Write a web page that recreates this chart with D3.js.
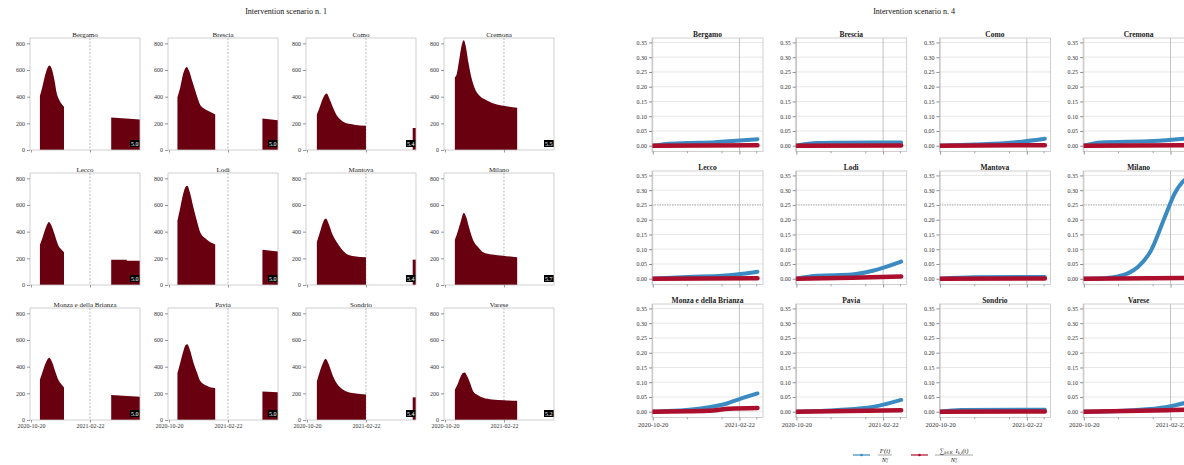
<!DOCTYPE html>
<html>
<head>
<meta charset="utf-8">
<script src="https://cdn.jsdelivr.net/npm/d3@7"></script>
<style>
  body { margin: 0; background: #fff; }
  text { font-family: "Liberation Serif", "DejaVu Serif", serif; fill: #222; }
</style>
</head>
<body>
<svg id="chart"></svg>
<script>
// province names, same order for both scenarios
const provinces = ["Bergamo", "Brescia", "Como", "Cremona", "Lecco", "Lodi",
  "Mantova", "Milano", "Monza e della Brianza", "Pavia", "Sondrio", "Varese"];

// scenario 1: [days after 2020-10-20, value] for the first wave hump
const s1Peak = [
  [[19,405],[24,470],[30,560],[35,615],[39,633],[44,610],[50,520],[55,420],[60,375],[65,345],[70,325]],
  [[18,395],[24,470],[30,570],[35,615],[38,623],[43,590],[50,510],[58,420],[66,340],[75,310],[88,285],[98,266]],
  [[21,266],[27,320],[33,380],[38,415],[42,423],[47,390],[55,320],[63,260],[72,225],[84,200],[100,190],[125,182]],
  [[21,545],[25,570],[29,650],[34,760],[38,815],[40,823],[44,780],[50,650],[57,530],[66,440],[74,405],[90,370],[110,342],[130,328],[153,317]],
  [[19,302],[25,360],[31,425],[36,465],[38,473],[43,450],[50,380],[58,296],[65,265],[70,245]],
  [[18,481],[24,580],[30,680],[35,735],[39,745],[44,700],[52,580],[60,470],[66,397],[80,342],[98,304]],
  [[21,322],[27,390],[33,460],[38,495],[40,499],[46,460],[54,380],[63,322],[72,275],[84,233],[100,215],[125,208]],
  [[21,340],[27,400],[33,470],[38,530],[40,542],[45,510],[52,420],[60,334],[70,285],[81,245],[100,228],[123,220],[153,208]],
  [[19,302],[25,365],[31,425],[36,460],[39,466],[44,440],[51,370],[58,302],[64,270],[70,243]],
  [[18,352],[24,430],[30,510],[35,560],[39,568],[44,530],[52,430],[60,350],[66,294],[80,256],[98,238]],
  [[21,289],[27,360],[33,420],[38,455],[40,458],[46,420],[54,340],[63,276],[72,240],[84,213],[100,200],[125,192]],
  [[21,226],[27,270],[33,325],[38,352],[42,357],[47,330],[54,270],[60,213],[70,185],[81,167],[100,154],[125,148],[153,144]]
];
// scenario 1: late block near the end of the period
const s1Late = [
  [[170,243],[231,228]],
  [[198,236],[231,223]],
  [[224,165],[231,165]],
  [],
  [[170,190],[203,190],[203.5,182],[231,182]],
  [[198,264],[231,251]],
  [[224,190],[231,190]],
  [],
  [[170,188],[231,175]],
  [[198,213],[231,208]],
  [[224,170],[231,170]],
  []
];
const s1BoxText = ["5.0", "5.0", "5.4", "5.5", "5.0", "5.0", "5.4", "5.7", "5.0", "5.0", "5.4", "5.2"];
const s1YTicks = [0, 200, 400, 600, 800];

// scenario 4: [days after 2020-10-20, share]
const s4Blue = [
  [[0,0],[20,0.006],[50,0.009],[90,0.012],[120,0.017],[151,0.022]],
  [[0,0],[30,0.009],[60,0.01],[151,0.011]],
  [[0,0],[50,0.004],[105,0.011],[151,0.024]],
  [[0,0],[25,0.011],[100,0.016],[151,0.025]],
  [[0,0],[50,0.006],[100,0.01],[130,0.017],[151,0.024]],
  [[0,0],[30,0.01],[80,0.014],[110,0.027],[151,0.058]],
  [[0,0],[50,0.005],[151,0.006]],
  [[0,0],[30,0.002],[49,0.008],[65,0.02],[78,0.04],[97,0.096],[116,0.204],[131,0.289],[145,0.334],[151,0.343]],
  [[0,0],[69,0.011],[107,0.028],[125,0.043],[151,0.062]],
  [[0,0],[60,0.006],[110,0.016],[151,0.04]],
  [[0,0],[30,0.006],[151,0.007]],
  [[0,0],[70,0.005],[120,0.016],[151,0.033]]
];
const s4Red = [
  [[0,0],[151,0.002]],
  [[0,0],[151,0.001]],
  [[0,0],[151,0.002]],
  [[0,0],[151,0.002]],
  [[0,0],[151,0.002]],
  [[0,0],[80,0.003],[151,0.008]],
  [[0,0],[151,0.001]],
  [[0,0],[151,0.003]],
  [[0,0],[80,0.003],[110,0.01],[151,0.013]],
  [[0,0],[151,0.005]],
  [[0,0],[151,0.001]],
  [[0,0],[120,0.005],[151,0.007]]
];
const s4YTicks = [0, 0.05, 0.10, 0.15, 0.20, 0.25, 0.30, 0.35];
const s4MinorDays = [50, 100, 150];

const dateLabels = ["2020-10-20", "2021-02-22"];

const width = 1184;
const height = 465;
const parseDate = d3.utcParse("%Y-%m-%d");
const startDate = parseDate(dateLabels[0]);
const markDate = parseDate(dateLabels[1]);
const toDate = (d) => d3.utcDay.offset(startDate, d);

let svg = d3.select("#chart")
  .attr("width", width)
  .attr("height", height);

svg.append("rect").attr("width", width).attr("height", height).attr("fill", "#fff");

// ---------- scenario 1 (left) ----------
function drawScenario1() {
  const pw = 110, ph = 112;
  const left0 = 30, colStep = 138, top0 = 38, rowStep = 135;

  svg.append("text")
    .attr("x", 286).attr("y", 14)
    .attr("text-anchor", "middle")
    .style("font-size", "8px")
    .style("fill", "#111")
    .text("Intervention scenario n. 1");

  provinces.forEach(function (name, i) {
    const col = i % 4, row = Math.floor(i / 4);
    let g = svg.append("g")
      .attr("transform", `translate(${left0 + col * colStep},${top0 + row * rowStep})`);

    const x = d3.scaleUtc().domain([toDate(-2), toDate(231)]).range([0, pw]);
    const y = d3.scaleLinear().domain([0, 840]).range([ph, 0]);

    const clipId = `clip1-${i}`;
    g.append("clipPath").attr("id", clipId)
      .append("rect").attr("width", pw).attr("height", ph);

    const area = d3.area()
      .x((d) => x(toDate(d[0])))
      .y0(y(0))
      .y1((d) => y(d[1]))
      .curve(d3.curveMonotoneX);

    let plot = g.append("g").attr("clip-path", `url(#${clipId})`);

    plot.append("line")
      .attr("x1", x(markDate)).attr("x2", x(markDate))
      .attr("y1", 0).attr("y2", ph)
      .attr("stroke", "#a8a8a8")
      .attr("stroke-width", 0.8)
      .attr("stroke-dasharray", "2,1.5");

    plot.append("path").datum(s1Peak[i])
      .attr("d", area).attr("fill", "#680010");
    if (s1Late[i].length) {
      plot.append("path").datum(s1Late[i])
        .attr("d", area.curve(d3.curveLinear)).attr("fill", "#680010");
    }

    // small black badge at the lower right corner
    plot.append("rect")
      .attr("x", pw - 10).attr("y", ph - 10)
      .attr("width", 14).attr("height", 7)
      .attr("fill", "#000");
    plot.append("text")
      .attr("x", pw - 9).attr("y", ph - 4.3)
      .style("fill", "#fff")
      .style("font-size", "6px")
      .text(s1BoxText[i]);

    g.append("rect")
      .attr("width", pw).attr("height", ph)
      .attr("fill", "none")
      .attr("stroke", "#c4c4c4")
      .attr("stroke-width", 0.8);

    let yAxis = g.append("g").call(d3.axisLeft(y).tickValues(s1YTicks).tickSize(3).tickPadding(2));
    yAxis.select(".domain").remove();
    yAxis.selectAll("line").attr("stroke", "#555").attr("stroke-width", 0.6);
    yAxis.selectAll("text").style("font-size", "6px").style("fill", "#333")
      .style("font-family", "'Liberation Serif', serif");

    let xAxis = g.append("g").attr("transform", `translate(0,${ph})`)
      .call(d3.axisBottom(x).tickValues([startDate, markDate]).tickSize(2.5).tickPadding(1.5)
        .tickFormat(row === 2 ? d3.utcFormat("%Y-%m-%d") : ""));
    xAxis.select(".domain").remove();
    xAxis.selectAll("line").attr("stroke", "#555").attr("stroke-width", 0.6);
    xAxis.selectAll("text").style("font-size", "6px").style("fill", "#333")
      .style("font-family", "'Liberation Serif', serif");

    g.append("text")
      .attr("x", pw / 2).attr("y", -1.5)
      .attr("text-anchor", "middle")
      .style("font-size", "7px")
      .text(name);
  });
}

// ---------- scenario 4 (right) ----------
function drawScenario4() {
  const pw = 111, ph = 113.5;
  const left0 = 652, colStep = 143.7, top0 = 38, rowStep = 133;

  svg.append("text")
    .attr("x", 914).attr("y", 14)
    .attr("text-anchor", "middle")
    .style("font-size", "8px")
    .style("fill", "#111")
    .text("Intervention scenario n. 4");

  provinces.forEach(function (name, i) {
    const col = i % 4, row = Math.floor(i / 4);
    let g = svg.append("g")
      .attr("transform", `translate(${left0 + col * colStep},${top0 + row * rowStep})`);

    const x = d3.scaleUtc().domain([toDate(-0.5), toDate(159)]).range([0, pw]);
    const y = d3.scaleLinear().domain([-0.0195, 0.365]).range([ph, 0]);

    const clipId = `clip4-${i}`;
    g.append("clipPath").attr("id", clipId)
      .append("rect").attr("width", pw).attr("height", ph);

    // grid
    g.append("g").selectAll("line").data(s4YTicks).enter().append("line")
      .attr("x1", 0).attr("x2", pw)
      .attr("y1", (d) => y(d)).attr("y2", (d) => y(d))
      .attr("stroke", (d) => (row === 1 && d === 0.25) ? "#777" : "#dcdcdc")
      .attr("stroke-dasharray", (d) => (row === 1 && d === 0.25) ? "1.5,1" : null)
      .attr("stroke-width", 0.7);
    g.append("g").selectAll("line").data([startDate, markDate]).enter().append("line")
      .attr("x1", (d) => x(d)).attr("x2", (d) => x(d))
      .attr("y1", 0).attr("y2", ph)
      .attr("stroke", "#b4b4b4")
      .attr("stroke-width", 0.8);

    const line = d3.line()
      .x((d) => x(toDate(d[0])))
      .y((d) => y(d[1]))
      .curve(d3.curveMonotoneX);

    let plot = g.append("g").attr("clip-path", `url(#${clipId})`);
    plot.append("path").datum(s4Blue[i])
      .attr("d", line)
      .attr("fill", "none")
      .attr("stroke", "#3b8bc2")
      .attr("stroke-width", 4)
      .attr("stroke-linecap", "round");
    plot.append("path").datum(s4Red[i])
      .attr("d", line)
      .attr("fill", "none")
      .attr("stroke", "#ac0f2d")
      .attr("stroke-width", 4.5)
      .attr("stroke-linecap", "round");

    g.append("rect")
      .attr("width", pw).attr("height", ph)
      .attr("fill", "none")
      .attr("stroke", "#c4c4c4")
      .attr("stroke-width", 0.8);

    let yAxis = g.append("g").call(d3.axisLeft(y).tickValues(s4YTicks).tickSize(3).tickPadding(2)
      .tickFormat(d3.format(".2f")));
    yAxis.select(".domain").remove();
    yAxis.selectAll("line").attr("stroke", "#444").attr("stroke-width", 0.6);
    yAxis.selectAll("text").style("font-size", "6px").style("fill", "#333")
      .style("font-family", "'Liberation Serif', serif");

    let xAxis = g.append("g").attr("transform", `translate(0,${ph})`)
      .call(d3.axisBottom(x).tickValues([startDate, markDate]).tickSize(3).tickPadding(2)
        .tickFormat(row === 2 ? d3.utcFormat("%Y-%m-%d") : ""));
    xAxis.select(".domain").remove();
    xAxis.selectAll("line").attr("stroke", "#444").attr("stroke-width", 0.6);
    xAxis.selectAll("text").style("font-size", "6.5px").style("fill", "#333")
      .style("font-family", "'Liberation Serif', serif");

    g.append("g").attr("transform", `translate(0,${ph})`)
      .selectAll("line").data(s4MinorDays).enter().append("line")
      .attr("x1", (d) => x(toDate(d))).attr("x2", (d) => x(toDate(d)))
      .attr("y1", 0).attr("y2", 1.8)
      .attr("stroke", "#444").attr("stroke-width", 0.5);

    g.append("text")
      .attr("x", pw / 2).attr("y", -1.5)
      .attr("text-anchor", "middle")
      .style("font-size", "7.5px")
      .style("font-weight", "bold")
      .text(name);
  });

  // legend
  let legend = svg.append("g").attr("transform", "translate(0,455)");
  const items = [{ x: 853, color: "#3b8bc2" }, { x: 911, color: "#ac0f2d" }];
  items.forEach(function (it) {
    legend.append("line")
      .attr("x1", it.x).attr("x2", it.x + 17)
      .attr("stroke", it.color).attr("stroke-width", 1.2);
    legend.append("circle")
      .attr("cx", it.x + 8.5).attr("r", 1.3).attr("fill", it.color);
  });

  // blue label: I^v_i(t) / N^v_i
  let l1 = legend.append("g").attr("transform", "translate(885,0)").style("font-size", "6.5px");
  let n1 = l1.append("text").attr("y", -2.5).attr("text-anchor", "middle");
  n1.append("tspan").style("font-style", "italic").text("I");
  n1.append("tspan").attr("dy", -2).style("font-size", "4.5px").style("font-style", "italic").text("v");
  n1.append("tspan").attr("dy", 2).style("font-style", "italic").text("(t)");
  l1.append("line").attr("x1", -7).attr("x2", 7).attr("stroke", "#222").attr("stroke-width", 0.4);
  let d1 = l1.append("text").attr("y", 6.5).attr("text-anchor", "middle");
  d1.append("tspan").style("font-style", "italic").text("N");
  d1.append("tspan").attr("dy", -2).style("font-size", "4.5px").style("font-style", "italic").text("v");
  d1.append("tspan").attr("dy", 3.5).attr("dx", -2).style("font-size", "4.5px").style("font-style", "italic").text("i");

  // red label: sum_k I_{k,i}(t) / N^v_i
  let l2 = legend.append("g").attr("transform", "translate(954,0)").style("font-size", "6.5px");
  let n2 = l2.append("text").attr("y", -2.5).attr("text-anchor", "middle");
  n2.append("tspan").text("\u2211");
  n2.append("tspan").attr("dy", 1.5).style("font-size", "4.5px").style("font-style", "italic").text("k\u2208K");
  n2.append("tspan").attr("dy", -1.5).text("\u2009 ");
  n2.append("tspan").style("font-style", "italic").text("I");
  n2.append("tspan").attr("dy", 1.5).style("font-size", "4.5px").style("font-style", "italic").text("k,i");
  n2.append("tspan").attr("dy", -1.5).style("font-style", "italic").text("(t)");
  l2.append("line").attr("x1", -19).attr("x2", 19).attr("stroke", "#222").attr("stroke-width", 0.4);
  let d2 = l2.append("text").attr("y", 6.5).attr("text-anchor", "middle");
  d2.append("tspan").style("font-style", "italic").text("N");
  d2.append("tspan").attr("dy", -2).style("font-size", "4.5px").style("font-style", "italic").text("v");
  d2.append("tspan").attr("dy", 3.5).attr("dx", -2).style("font-size", "4.5px").style("font-style", "italic").text("i");
}

drawScenario1();
drawScenario4();
</script>
</body>
</html>
